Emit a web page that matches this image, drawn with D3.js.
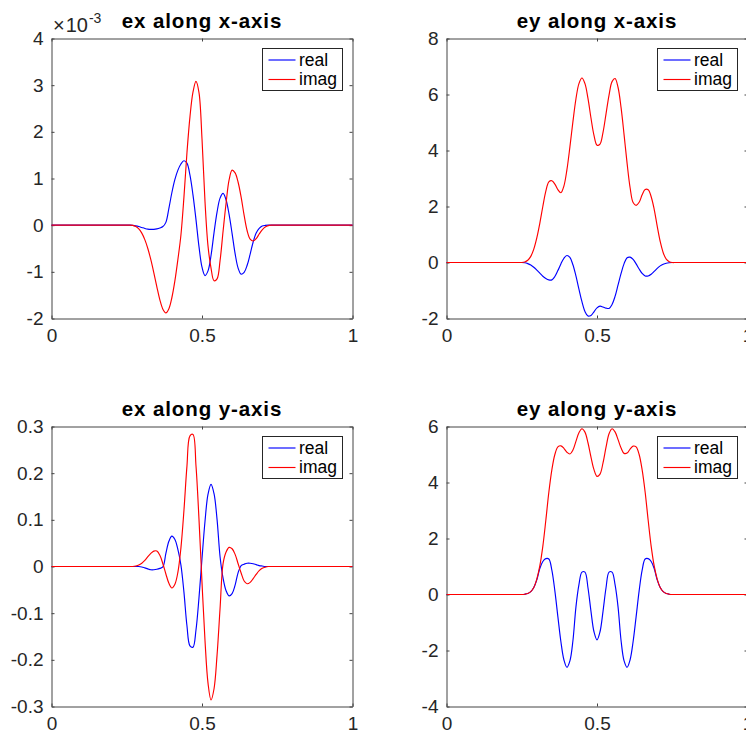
<!DOCTYPE html>
<html>
<head>
<meta charset="utf-8">
<script src="https://cdn.jsdelivr.net/npm/d3@7"></script>
<style>
  html, body { margin: 0; padding: 0; background: #fff; }
  svg { display: block; font-family: "Liberation Sans", Arial, Helvetica, sans-serif; }
</style>
</head>
<body>
<svg id="chart" width="746" height="734"></svg>
<script>
// Sample positions along the axis (field is zero outside 0.2 .. 0.8)
const sampleX = [0,
  0.20, 0.21, 0.22, 0.23, 0.24, 0.25, 0.26, 0.27, 0.28, 0.29,
  0.30, 0.31, 0.32, 0.33, 0.34, 0.35, 0.36, 0.37, 0.38, 0.39,
  0.40, 0.41, 0.42, 0.43, 0.44, 0.45, 0.46, 0.47, 0.48, 0.49,
  0.50, 0.51, 0.52, 0.53, 0.54, 0.55, 0.56, 0.57, 0.58, 0.59,
  0.60, 0.61, 0.62, 0.63, 0.64, 0.65, 0.66, 0.67, 0.68, 0.69,
  0.70, 0.71, 0.72, 0.73, 0.74, 0.75, 0.76, 0.77, 0.78, 0.79,
  0.80, 1];

// ex along x-axis (units of 1e-3)
const exXReal = [0,
  0, 0, 0, 0, 0, 0, 0, -0.005, -0.015, -0.03,
  -0.05, -0.07, -0.085, -0.09, -0.09, -0.08, -0.06, -0.03, 0.06, 0.36,
  0.70, 0.98, 1.18, 1.31, 1.38, 1.33, 1.07, 0.65, 0.12, -0.46,
  -0.90, -1.08, -0.98, -0.65, -0.16, 0.28, 0.58, 0.68, 0.54, 0.23,
  -0.18, -0.61, -0.92, -1.05, -1.01, -0.86, -0.62, -0.36, -0.17, -0.07,
  -0.02, -0.005, 0, 0, 0, 0, 0, 0, 0, 0,
  0, 0];
const exXImag = [0,
  0, 0, 0, 0, 0, 0, 0, -0.005, -0.03, -0.08,
  -0.17, -0.31, -0.50, -0.74, -1.02, -1.32, -1.60, -1.80, -1.88, -1.79,
  -1.55, -1.19, -0.73, -0.21, 0.60, 1.55, 2.32, 2.85, 3.08, 2.84,
  1.85, 0.50, -0.45, -0.92, -1.19, -1.15, -0.76, -0.13, 0.47, 0.97,
  1.18, 1.12, 0.92, 0.60, 0.21, -0.12, -0.30, -0.34, -0.29, -0.19,
  -0.10, -0.04, -0.01, 0, 0, 0, 0, 0, 0, 0,
  0, 0];

// ey along x-axis
const eyXReal = [0,
  0, 0, 0, 0, 0, 0, -0.01, -0.04, -0.09, -0.17,
  -0.27, -0.38, -0.49, -0.57, -0.62, -0.62, -0.50, -0.29, -0.05, 0.15,
  0.25, 0.18, -0.08, -0.48, -0.95, -1.40, -1.75, -1.91, -1.89, -1.76,
  -1.62, -1.56, -1.59, -1.63, -1.64, -1.50, -1.21, -0.80, -0.39, -0.04,
  0.17, 0.19, 0.11, -0.05, -0.23, -0.39, -0.48, -0.48, -0.42, -0.32,
  -0.21, -0.12, -0.06, -0.025, -0.008, 0, 0, 0, 0, 0,
  0, 0];
const eyXImag = [0,
  0, 0, 0, 0, 0, 0, 0.02, 0.08, 0.22, 0.48,
  0.88, 1.40, 2.00, 2.55, 2.88, 2.92, 2.80, 2.60, 2.49, 2.73,
  3.31, 4.13, 5.03, 5.84, 6.39, 6.59, 6.39, 5.86, 5.16, 4.54,
  4.19, 4.23, 4.65, 5.31, 5.98, 6.46, 6.57, 6.25, 5.53, 4.56,
  3.54, 2.67, 2.14, 2.04, 2.15, 2.42, 2.61, 2.60, 2.35, 1.90,
  1.30, 0.75, 0.35, 0.12, 0.03, 0, 0, 0, 0, 0,
  0, 0];

// ex along y-axis
const exYReal = [0,
  0, 0, 0, 0, 0, 0, 0, 0, 0, 0,
  -0.001, -0.003, -0.005, -0.007, -0.007, -0.006, -0.004, -0.001, 0.028, 0.054,
  0.065, 0.058, 0.036, 0.003, -0.055, -0.127, -0.170, -0.173, -0.136, -0.067,
  0.017, 0.097, 0.155, 0.176, 0.156, 0.101, 0.021, -0.025, -0.052, -0.063,
  -0.058, -0.040, -0.013, 0.002, 0.005, 0.007, 0.007, 0.006, 0.004, 0.002,
  0.001, 0, 0, 0, 0, 0, 0, 0, 0, 0,
  0, 0];
const exYImag = [0,
  0, 0, 0, 0, 0, 0, 0, 0, 0.001, 0.003,
  0.007, 0.013, 0.021, 0.028, 0.033, 0.033, 0.024, 0.006, -0.016, -0.036,
  -0.046, -0.038, -0.012, 0.040, 0.120, 0.215, 0.280, 0.283, 0.216, 0.101,
  -0.034, -0.159, -0.250, -0.286, -0.262, -0.190, -0.090, 0.006, 0.031, 0.041,
  0.038, 0.026, 0.006, -0.014, -0.031, -0.037, -0.034, -0.026, -0.017, -0.009,
  -0.004, -0.0015, 0, 0, 0, 0, 0, 0, 0, 0,
  0, 0];

// ey along y-axis
const eyYReal = [0,
  0, 0, 0, 0, 0, 0, 0.01, 0.035, 0.10, 0.25,
  0.52, 0.93, 1.18, 1.28, 1.27, 0.87, 0.13, -0.79, -1.68, -2.33,
  -2.60, -2.37, -1.65, -0.45, 0.35, 0.80, 0.80, 0.24, -0.60, -1.33,
  -1.62, -1.33, -0.60, 0.24, 0.80, 0.80, 0.35, -0.45, -1.65, -2.37,
  -2.60, -2.33, -1.68, -0.79, 0.13, 0.87, 1.27, 1.28, 1.18, 0.93,
  0.52, 0.25, 0.10, 0.035, 0.01, 0, 0, 0, 0, 0,
  0, 0];
const eyYImag = [0,
  0, 0, 0, 0, 0, 0, 0.01, 0.035, 0.10, 0.25,
  0.55, 1.02, 1.72, 2.65, 3.65, 4.45, 5.00, 5.27, 5.31, 5.22,
  5.08, 5.02, 5.16, 5.47, 5.78, 5.92, 5.80, 5.42, 4.91, 4.46,
  4.22, 4.30, 4.70, 5.26, 5.74, 5.92, 5.81, 5.53, 5.23, 5.04,
  5.05, 5.19, 5.30, 5.27, 5.00, 4.45, 3.65, 2.65, 1.72, 1.02,
  0.55, 0.25, 0.10, 0.035, 0.01, 0, 0, 0, 0, 0,
  0, 0];

// Titles and tick values
const titles = ["ex along x-axis", "ey along x-axis", "ex along y-axis", "ey along y-axis"];
const xTicks = [0, 0.5, 1];
const xTickLabels = ["0", "0.5", "1"];
const exXTicks = [-2, -1, 0, 1, 2, 3, 4];
const eyXTicks = [-2, 0, 2, 4, 6, 8];
const exYTicks = [-0.3, -0.2, -0.1, 0, 0.1, 0.2, 0.3];
const eyYTicks = [-4, -2, 0, 2, 4, 6];
const exYTickLabels = ["-0.3", "-0.2", "-0.1", "0", "0.1", "0.2", "0.3"];
const legendLabels = ["real", "imag"];
const seriesColors = ["#0000ff", "#ff0000"];

const panels = [
  { title: titles[0], real: exXReal, imag: exXImag, ticks: exXTicks, labels: null, exponent: "-3", col: 0, row: 0 },
  { title: titles[1], real: eyXReal, imag: eyXImag, ticks: eyXTicks, labels: null, exponent: null, col: 1, row: 0 },
  { title: titles[2], real: exYReal, imag: exYImag, ticks: exYTicks, labels: exYTickLabels, exponent: null, col: 0, row: 1 },
  { title: titles[3], real: eyYReal, imag: eyYImag, ticks: eyYTicks, labels: null, exponent: null, col: 1, row: 1 }
];

const svg = d3.select("#chart");
const W = 301, H = 280;
const lefts = [51.5, 446.5], tops = [38.5, 426.5];
const axisColor = "#444";
const textColor = "#262626";

panels.forEach(p => {
  const ox = lefts[p.col], oy = tops[p.row];
  const g = svg.append("g").attr("transform", `translate(${ox},${oy})`);
  const yDom = d3.extent(p.ticks);
  const x = d3.scaleLinear().domain([0, 1]).range([0, W]);
  const y = d3.scaleLinear().domain(yDom).range([H, 0]);

  const fmtY = p.labels ? (d, i) => p.labels[i] : d => String(d);

  // axes on all four sides, ticks pointing inward
  const axes = [
    g.append("g").attr("transform", `translate(0,${H})`)
      .call(d3.axisBottom(x).tickValues(xTicks).tickFormat((d, i) => xTickLabels[i]).tickSize(-3).tickSizeOuter(0).tickPadding(10)),
    g.append("g")
      .call(d3.axisTop(x).tickValues(xTicks).tickFormat("").tickSize(-3).tickSizeOuter(0)),
    g.append("g")
      .call(d3.axisLeft(y).tickValues(p.ticks).tickFormat(fmtY).tickSize(-3).tickSizeOuter(0).tickPadding(8)),
    g.append("g").attr("transform", `translate(${W},0)`)
      .call(d3.axisRight(y).tickValues(p.ticks).tickFormat("").tickSize(-3).tickSizeOuter(0))
  ];
  axes.forEach(a => {
    a.attr("font-family", null).attr("font-size", null);
    a.select(".domain").attr("stroke", axisColor).attr("stroke-width", 1);
    a.selectAll(".tick line").attr("stroke", axisColor).attr("stroke-width", 1);
    a.selectAll(".tick text").attr("fill", textColor).style("font-size", "19px");
  });

  // curves: real first, imaginary drawn on top
  const line = d3.line()
    .x((d, i) => x(sampleX[i]))
    .y(d => y(d))
    .curve(d3.curveCatmullRom.alpha(0.5));
  [p.real, p.imag].forEach((s, k) => {
    g.append("path").attr("d", line(s))
      .attr("fill", "none").attr("stroke", seriesColors[k]).attr("stroke-width", 1.15)
      .attr("stroke-linejoin", "round");
  });

  // title
  g.append("text")
    .attr("x", W / 2).attr("y", -11)
    .attr("text-anchor", "middle")
    .style("font-size", "20.5px").style("font-weight", "bold")
    .style("letter-spacing", "0.9px")
    .attr("fill", "#000")
    .text(p.title);

  // exponent multiplier
  if (p.exponent) {
    const t = g.append("text").attr("x", 1.5).attr("y", -6.5).attr("fill", textColor).style("font-size", "20px");
    t.append("tspan").style("font-weight", "300").text("\u00d7");
    t.append("tspan").attr("dx", 1).text("10");
    t.append("tspan").attr("dy", -9).attr("dx", 1).style("font-size", "14px").text(p.exponent);
  }

  // legend
  const lg = g.append("g").attr("transform", `translate(211,10)`);
  lg.append("rect").attr("width", 80).attr("height", 42)
    .attr("fill", "#fff").attr("stroke", "#262626").attr("stroke-width", 1);
  legendLabels.forEach((lab, k) => {
    const cy = 11.5 + k * 19.5;
    lg.append("line").attr("x1", 6).attr("x2", 33).attr("y1", cy).attr("y2", cy)
      .attr("stroke", seriesColors[k]).attr("stroke-width", 1.15);
    lg.append("text").attr("x", 36.5).attr("y", cy + 5.8)
      .attr("fill", "#000").style("font-size", "17.5px").text(lab);
  });
});
</script>
</body>
</html>
